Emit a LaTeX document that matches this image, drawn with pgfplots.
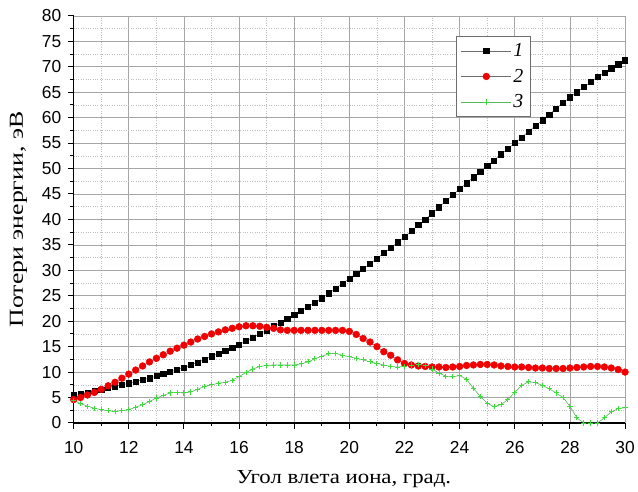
\documentclass[border=0pt]{standalone}
\usepackage{fontspec}
\setmainfont{Liberation Serif}
\setsansfont{Liberation Sans}
\usepackage{pgfplots}
\usepackage{pgfplotstable}
\pgfplotsset{compat=1.18}

\pgfplotstableread{
x y
10.00 5.5
10.25 5.8
10.50 6.0
10.75 6.3
11.00 6.6
11.25 6.9
11.50 7.2
11.75 7.5
12.00 7.8
12.25 8.1
12.50 8.5
12.75 8.8
13.00 9.2
13.25 9.6
13.50 10.0
13.75 10.5
14.00 10.9
14.25 11.4
14.50 11.9
14.75 12.5
15.00 13.1
15.25 13.6
15.50 14.2
15.75 14.8
16.00 15.4
16.25 16.1
16.50 16.8
16.75 17.5
17.00 18.2
17.25 19.0
17.50 19.7
17.75 20.5
18.00 21.3
18.25 22.1
18.50 22.9
18.75 23.7
19.00 24.5
19.25 25.5
19.50 26.4
19.75 27.4
20.00 28.4
20.25 29.4
20.50 30.3
20.75 31.3
21.00 32.3
21.25 33.4
21.50 34.4
21.75 35.5
22.00 36.6
22.25 37.7
22.50 38.9
22.75 40.0
23.00 41.2
23.25 42.4
23.50 43.6
23.75 44.8
24.00 46.0
24.25 47.1
24.50 48.3
24.75 49.4
25.00 50.5
25.25 51.6
25.50 52.8
25.75 53.9
26.00 55.0
26.25 56.1
26.50 57.3
26.75 58.4
27.00 59.5
27.25 60.6
27.50 61.8
27.75 62.9
28.00 64.0
28.25 65.0
28.50 66.0
28.75 67.0
29.00 68.0
29.25 68.8
29.50 69.7
29.75 70.5
30.00 71.3
}\seriesA

\pgfplotstableread{
x y
10.00 4.6
10.25 5.0
10.50 5.5
10.75 6.0
11.00 6.6
11.25 7.3
11.50 8.0
11.75 8.8
12.00 9.6
12.25 10.4
12.50 11.2
12.75 12.0
13.00 12.7
13.25 13.4
13.50 14.1
13.75 14.7
14.00 15.3
14.25 15.9
14.50 16.5
14.75 17.0
15.00 17.5
15.25 17.9
15.50 18.3
15.75 18.6
16.00 18.9
16.25 19.1
16.50 19.1
16.75 19.0
17.00 18.8
17.25 18.6
17.50 18.3
17.75 18.2
18.00 18.2
18.25 18.2
18.50 18.2
18.75 18.2
19.00 18.2
19.25 18.2
19.50 18.2
19.75 18.2
20.00 18.0
20.25 17.4
20.50 16.6
20.75 15.9
21.00 15.0
21.25 14.0
21.50 13.3
21.75 12.4
22.00 11.7
22.25 11.4
22.50 11.2
22.75 11.1
23.00 11.0
23.25 11.0
23.50 10.9
23.75 11.0
24.00 11.1
24.25 11.3
24.50 11.4
24.75 11.5
25.00 11.5
25.25 11.4
25.50 11.2
25.75 11.1
26.00 11.0
26.25 11.0
26.50 10.9
26.75 10.8
27.00 10.8
27.25 10.7
27.50 10.7
27.75 10.7
28.00 10.8
28.25 10.9
28.50 11.0
28.75 11.1
29.00 11.1
29.25 11.0
29.50 10.8
29.75 10.5
30.00 10.0
}\seriesB

\pgfplotstableread{
x y
10.00 4.4
10.25 3.8
10.50 3.3
10.75 2.9
11.00 2.6
11.25 2.4
11.50 2.3
11.75 2.4
12.00 2.6
12.25 3.1
12.50 3.6
12.75 4.2
13.00 4.9
13.25 5.4
13.50 5.9
13.75 6.0
14.00 5.9
14.25 6.1
14.50 6.6
14.75 7.2
15.00 7.5
15.25 7.8
15.50 8.0
15.75 8.4
16.00 9.1
16.25 9.9
16.50 10.6
16.75 11.1
17.00 11.3
17.25 11.4
17.50 11.4
17.75 11.4
18.00 11.4
18.25 11.6
18.50 12.0
18.75 12.6
19.00 13.1
19.25 13.6
19.50 13.7
19.75 13.3
20.00 13.0
20.25 12.7
20.50 12.4
20.75 12.0
21.00 11.7
21.25 11.4
21.50 11.1
21.75 11.0
22.00 11.1
22.25 11.4
22.50 11.5
22.75 11.3
23.00 10.6
23.25 9.8
23.50 9.2
23.75 9.1
24.00 9.3
24.25 8.6
24.50 6.8
24.75 5.2
25.00 3.9
25.25 3.2
25.50 3.6
25.75 4.6
26.00 6.0
26.25 7.4
26.50 8.1
26.75 7.9
27.00 7.4
27.25 6.7
27.50 5.9
27.75 5.0
28.00 3.3
28.25 1.0
28.50 0.0
28.75 0.0
29.00 0.0
29.25 1.0
29.50 2.2
29.75 2.8
30.00 3.0
}\seriesC

\definecolor{ptsgreen}{RGB}{60,220,60}
\definecolor{ptsred}{RGB}{240,0,0}
\definecolor{lgray}{RGB}{110,110,110}

\begin{document}
\begin{tikzpicture}
\begin{axis}[
  scale only axis,
  width=554bp, height=409bp,
  xmin=10, xmax=30, ymin=0, ymax=80,
  clip=false,
  axis lines=left,
  axis line style={-, line width=1.1pt, black},
  xtick={10,12,...,30},
  ytick={0,5,...,80},
  minor x tick num=1,
  minor y tick num=1,
  tick align=outside,
  major tick length=6bp,
  minor tick length=3.5bp,
  tick style={black, line width=1pt},
  grid=both,
  major grid style={draw=gray!70, line width=0.7pt},
  minor grid style={draw=gray!50, dotted, line width=0.6pt},
  tick label style={font=\sffamily\fontsize{17.5}{17.5}\selectfont},
  xticklabel style={yshift=-9bp},
  yticklabel style={xshift=-3bp},
  /pgf/number format/assume math mode=true,
  xlabel={Угол влета иона, град.},
  ylabel={Потери энергии, эВ},
  every axis x label/.style={at={(axis description cs:0.49,-0.138)}, anchor=center, xscale=1.15, font=\fontsize{20}{20}\selectfont},
  every axis y label/.style={at={(axis description cs:-0.1,0.5)}, rotate=90, xscale=1.3, anchor=center, font=\fontsize{20}{20}\selectfont},
  legend style={at={(axis description cs:0.693,0.95)}, anchor=north west,
    draw=lgray, fill=white, line width=0.8pt,
    font=\itshape\fontsize{20}{20}\selectfont,
    row sep=7bp, inner xsep=5bp, inner ysep=5bp},
  legend cell align=left,
  legend image code/.code={\draw[mark repeat=2,mark phase=2] plot coordinates {(0bp,0bp) (25bp,0bp) (50bp,0bp)};},
]
\addplot[draw=lgray, line width=0.5pt, mark=square*, mark size=2.6bp, mark options={draw=black, fill=black, solid}] table[x=x,y=y] {\seriesA};
\addlegendentry{1}
\addplot[draw=lgray, line width=0.5pt, mark=*, mark size=3.4bp, mark options={draw=ptsred, fill=ptsred, solid}] table[x=x,y=y] {\seriesB};
\addlegendentry{2}
\addplot[draw=ptsgreen!60!gray, line width=0.6pt, mark=+, mark size=2.6bp, mark options={draw=ptsgreen, line width=0.9pt, solid}] table[x=x,y=y] {\seriesC};
\addlegendentry{3}
\path (axis description cs:-0.1336,1.0391) (axis description cs:1.0181,-0.1589);
\end{axis}
\end{tikzpicture}
\end{document}
